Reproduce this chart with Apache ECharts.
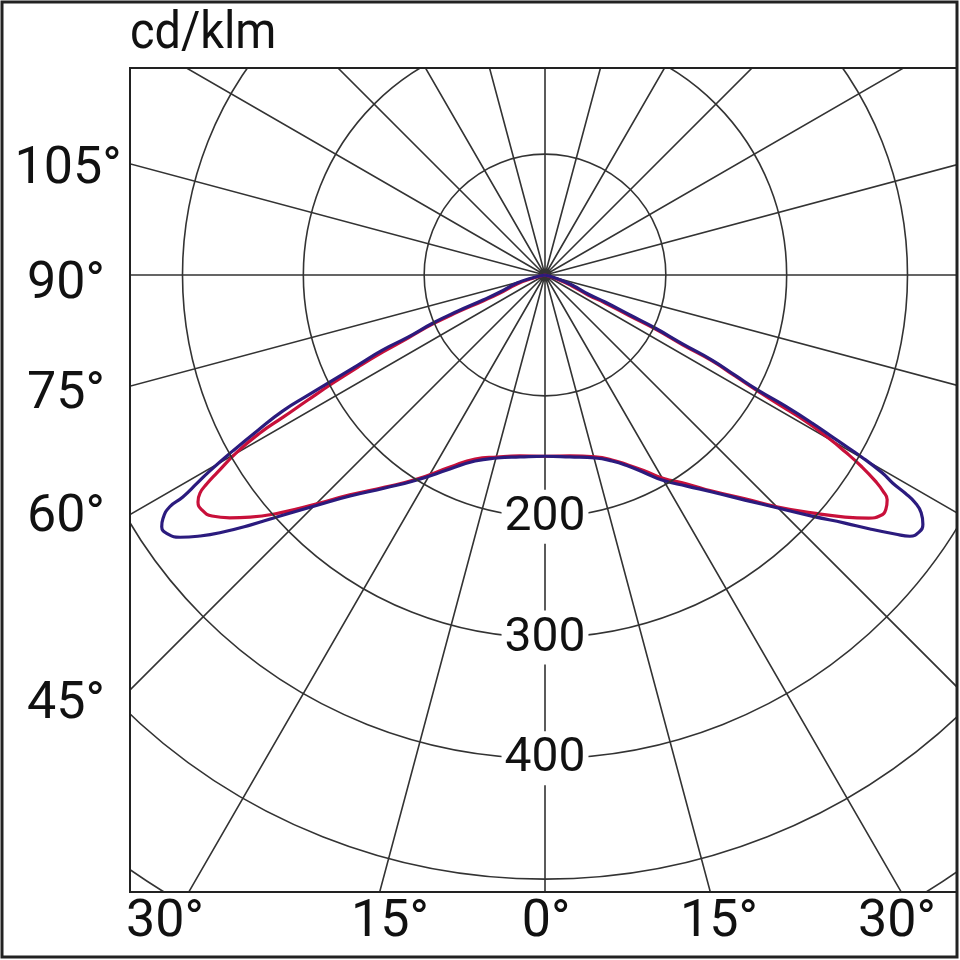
<!DOCTYPE html>
<html><head><meta charset="utf-8">
<script src="https://cdn.jsdelivr.net/npm/echarts@6/dist/echarts.min.js"></script>
<style>html,body{margin:0;padding:0;background:#fff}#c{width:960px;height:960px}</style>
</head><body><div id="c"></div>
<script>
// ---- values ----
const unitLabel = 'cd/klm';
const radiusLabelled = [200, 300, 400];
const sideTickLabels = ['105°', '90°', '75°', '60°', '45°'];
const bottomTickLabels = ['30°', '15°', '0°', '15°', '30°'];

// red curve: gamma (deg from nadir) and intensity (cd/klm), left half and right half
const redLeftGamma  = [0, 7.9, 14.8, 20.8, 26.3, 32.1, 37.0, 41.6, 44.9, 48.1, 50.6, 52.4, 54.1, 55.6, 56.8, 57.7, 58.3, 58.9, 60.1, 61.0, 61.5, 62.2, 63.0, 63.8, 64.6, 65.3, 66.4, 67.0, 67.3, 68.2, 72.2, 74.9, 90];
const redLeftI      = [150, 151.2, 155.8, 162.9, 177.3, 199.3, 219.8, 243.3, 267.4, 294.8, 315.8, 329.3, 340.2, 344.1, 343.2, 337.8, 328.9, 317.1, 294.0, 269.7, 246.6, 221.8, 196.9, 172.5, 148.4, 124.8, 101.2, 78.2, 55.6, 40.1, 24.3, 11.1, 0];
const redRightGamma = [0, 7.9, 15.4, 19.9, 23.6, 27.0, 30.0, 34.2, 37.7, 41.8, 45.1, 48.3, 51.1, 53.1, 54.3, 55.5, 56.7, 57.4, 58.0, 58.8, 59.5, 60.1, 60.7, 61.0, 61.4, 62.0, 62.8, 63.1, 63.9, 64.2, 65.0, 65.1, 67.8, 70.9, 90];
const redRightI     = [150, 151.2, 156.2, 162.8, 171.6, 182.1, 193.9, 209.1, 226.0, 248.5, 272.1, 296.0, 319.0, 335.0, 341.5, 342.3, 338.8, 332.0, 323.1, 306.7, 288.3, 270.3, 246.8, 222.3, 200.7, 178.1, 155.5, 128.1, 101.4, 78.1, 54.8, 39.3, 24.1, 11.4, 0];

// blue curve
const blueLeftGamma  = [0, 7.8, 14.7, 20.6, 26.1, 32.0, 36.9, 41.4, 44.7, 47.7, 49.7, 51.6, 52.9, 54.3, 55.5, 56.7, 57.5, 58.3, 58.5, 59.1, 59.7, 60.6, 61.6, 62.6, 63.1, 63.65, 64.3, 65.2, 65.6, 66.8, 67.5, 68.0, 69.3, 74.1, 77, 90];
const blueLeftI      = [150, 152.0, 156.6, 164.5, 178.8, 200.0, 220.5, 243.9, 268.0, 296.4, 320.0, 343.4, 358.1, 371.9, 378.6, 379.5, 374.8, 365.0, 351.5, 335.5, 321.2, 296.5, 270.0, 244.3, 219.8, 195.8, 171.8, 147.8, 124.5, 100.8, 77.9, 55.3, 39.8, 24.1, 11, 0];
const blueRightGamma = [0, 7.8, 15.3, 19.8, 23.5, 26.8, 29.7, 33.9, 37.6, 41.6, 45.0, 47.9, 50.4, 52.0, 53.5, 54.4, 55.5, 56.6, 57.7, 58.4, 58.8, 59.1, 59.6, 60.1, 60.5, 61.0, 61.4, 61.6, 62.2, 63.0, 63.4, 64.3, 64.8, 65.8, 66.2, 69.7, 72.9, 90];
const blueRightI     = [150, 152.0, 157.0, 163.6, 172.4, 183.6, 195.3, 210.5, 226.6, 249.1, 272.7, 297.7, 322.1, 341.4, 360.3, 371.4, 375.6, 374.6, 368.3, 359.7, 348.3, 335.5, 323.5, 302.5, 277.6, 252.7, 226.3, 200.3, 177.7, 155.1, 127.7, 101.1, 77.7, 54.5, 38.9, 23.8, 11.3, 0];

// ---- build ----
const FONT = 'Roboto, "Noto Sans", sans-serif';
const FS = 52;
function loop(rg, ri, lg, li) {
  const pts = [];
  for (let i = rg.length - 1; i >= 0; i--) { if (rg[i] === 0) continue; pts.push([ri[i], 360 - rg[i]]); }
  for (let i = 0; i < lg.length; i++) pts.push([li[i], lg[i]]);
  return pts;
}
const grid = { color: '#333', width: 1.6 };
const chart = echarts.init(document.getElementById('c'), null, { renderer: 'canvas' });

const sidePos = [[68, 170], [66, 285], [66, 395], [66, 518], [66, 705]];
const bottomPos = [[165, 923], [390, 923], [546, 923], [719, 923], [897, 923]];
const txt = (t, x, y, align, sx) => ({ type: 'text', z: 102, x, y, scaleX: sx || 1,
  style: { text: t, fontSize: FS, fontFamily: FONT, fill: '#111', align, verticalAlign: 'middle', textAlign: align, textVerticalAlign: 'middle' } });
const graphics = [
  { type: 'rect', z: 100, shape: { x: 0, y: 0, width: 960, height: 68 }, style: { fill: '#fff' } },
  { type: 'rect', z: 100, shape: { x: 0, y: 0, width: 130, height: 960 }, style: { fill: '#fff' } },
  { type: 'rect', z: 100, shape: { x: 0, y: 892, width: 960, height: 68 }, style: { fill: '#fff' } },
  { type: 'rect', z: 100, shape: { x: 957, y: 0, width: 3, height: 960 }, style: { fill: '#fff' } },
  { type: 'rect', z: 101, shape: { x: 130, y: 68, width: 827, height: 824 }, style: { fill: 'none', stroke: '#222', lineWidth: 2 } },
  { type: 'rect', z: 101, shape: { x: 2, y: 2, width: 955, height: 955 }, style: { fill: 'none', stroke: '#222', lineWidth: 3 } },
  txt(unitLabel, 130, 35, 'left', 0.9)
];
sideTickLabels.forEach((t, i) => graphics.push(txt(t, sidePos[i][0], sidePos[i][1], 'center')));
bottomTickLabels.forEach((t, i) => graphics.push(txt(t, bottomPos[i][0], bottomPos[i][1], 'center')));

chart.setOption({
  animation: false,
  polar: { center: [545, 275], radius: 725 },
  angleAxis: {
    type: 'value', min: 0, max: 360, interval: 15, startAngle: 270, clockwise: true,
    axisLine: { show: false }, axisTick: { show: false }, axisLabel: { show: false },
    splitLine: { show: true, lineStyle: grid }
  },
  radiusAxis: {
    type: 'value', min: 0, max: 600, interval: 100, z: 5,
    axisLine: { show: false }, axisTick: { show: false },
    splitLine: { show: true, lineStyle: grid },
    axisLabel: {
      show: true, margin: 0, rotate: 0, align: 'center', verticalAlign: 'middle',
      formatter: v => radiusLabelled.includes(v) ? '{b|' + v + '}' : '',
      rich: { b: { backgroundColor: '#fff', padding: [4, 3, 2, 3], fontSize: 48, fontFamily: FONT, color: '#111' } }
    }
  },
  series: [
    { name: 'C0-C180', type: 'line', coordinateSystem: 'polar', symbol: 'none', smooth: 0.5, z: 3,
      lineStyle: { color: '#c8103a', width: 3.2 }, data: loop(redRightGamma, redRightI, redLeftGamma, redLeftI) },
    { name: 'C90-C270', type: 'line', coordinateSystem: 'polar', symbol: 'none', smooth: 0.5, z: 4,
      lineStyle: { color: '#2b1b7e', width: 3.2 }, data: loop(blueRightGamma, blueRightI, blueLeftGamma, blueLeftI) }
  ],
  graphic: { elements: graphics }
});
</script></body></html>
